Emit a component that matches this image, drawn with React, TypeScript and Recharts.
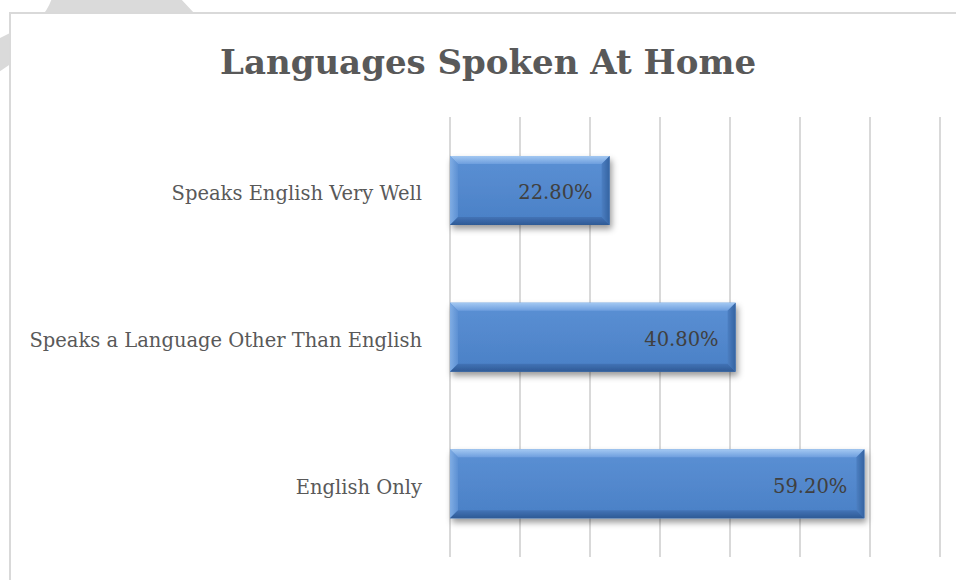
import { BarChart, Bar, XAxis, YAxis, CartesianGrid, LabelList } from 'recharts'

const categories = ['Speaks English Very Well', 'Speaks a Language Other Than English', 'English Only']
const shares = [0.228, 0.408, 0.592]
const xTicks = [0, 0.1, 0.2, 0.3, 0.4, 0.5, 0.6, 0.7]

const data = categories.map((name, i) => ({ name, value: shares[i] }))

const FONT = '"DejaVu Serif", serif'

// office-style bevelled bar
function BevelBar(props: any) {
  const { x, y, width, height } = props
  if (width <= 0) return null
  const b = 8
  return (
    <g filter="url(#barShadow)">
      <rect x={x} y={y} width={width} height={height} fill="url(#barFill)" />
      <polygon
        points={`${x},${y} ${x + width},${y} ${x + width - b},${y + b} ${x + b},${y + b}`}
        fill="url(#bevTop)"
      />
      <polygon
        points={`${x},${y} ${x + b},${y + b} ${x + b},${y + height - b} ${x},${y + height}`}
        fill="url(#bevLeft)"
      />
      <polygon
        points={`${x + width},${y} ${x + width},${y + height} ${x + width - b},${y + height - b} ${x + width - b},${y + b}`}
        fill="url(#bevRight)"
      />
      <polygon
        points={`${x},${y + height} ${x + width},${y + height} ${x + width - b},${y + height - b} ${x + b},${y + height - b}`}
        fill="url(#bevBottom)"
      />
    </g>
  )
}

export default function App() {
  return (
    <div style={{ position: 'relative', width: 956, height: 580, overflow: 'hidden', background: '#fff' }}>
      <style>{'body{margin:0;overflow:hidden}'}</style>
      {/* page watermark peeking out behind the chart box */}
      <svg width={260} height={120} style={{ position: 'absolute', left: 0, top: 0 }}>
        <path d="M 180 -2 L 52 -2 Q 48 10 40 18 L -4 40 L -4 74 L 60 30 L 195 14 Z" fill="#dadada" />
      </svg>
      <div
        style={{
          position: 'absolute',
          left: 9,
          top: 12,
          width: 1000,
          height: 620,
          border: '2px solid #d9d9d9',
          boxSizing: 'border-box',
          background: '#fff',
        }}
      />
      <div
        style={{
          position: 'absolute',
          left: 0,
          width: 976,
          top: 37,
          textAlign: 'center',
          fontFamily: FONT,
          fontWeight: 'bold',
          fontSize: 34,
          color: '#595959',
          lineHeight: '50px',
        }}
      >
        Languages Spoken At Home
      </div>
      <div style={{ position: 'absolute', left: 0, top: 0 }}>
        <BarChart
          width={956}
          height={580}
          data={data}
          layout="vertical"
          margin={{ top: 117, right: 16, bottom: 23, left: 0 }}
        >
          <defs>
            <linearGradient id="barFill" x1="0" y1="0" x2="0" y2="1">
              <stop offset="0%" stopColor="#5b90d4" />
              <stop offset="100%" stopColor="#4a80c6" />
            </linearGradient>
            <linearGradient id="bevTop" x1="0" y1="0" x2="0" y2="1">
              <stop offset="0%" stopColor="#a3c8f2" />
              <stop offset="100%" stopColor="#6d9ede" />
            </linearGradient>
            <linearGradient id="bevBottom" x1="0" y1="0" x2="0" y2="1">
              <stop offset="0%" stopColor="#4373b6" />
              <stop offset="100%" stopColor="#2e5a95" />
            </linearGradient>
            <linearGradient id="bevLeft" x1="0" y1="0" x2="1" y2="0">
              <stop offset="0%" stopColor="#80ade4" />
              <stop offset="100%" stopColor="#5c90d3" />
            </linearGradient>
            <linearGradient id="bevRight" x1="0" y1="0" x2="1" y2="0">
              <stop offset="0%" stopColor="#4c7fc2" />
              <stop offset="100%" stopColor="#3563a1" />
            </linearGradient>
            <filter id="barShadow" x="-10%" y="-20%" width="130%" height="160%">
              <feDropShadow dx="2" dy="4" stdDeviation="3" floodColor="#000" floodOpacity="0.4" />
            </filter>
          </defs>
          <CartesianGrid horizontal={false} vertical stroke="#d9d9d9" strokeWidth={2} />
          <XAxis type="number" hide domain={[0, 0.7]} ticks={xTicks} />
          <YAxis
            type="category"
            dataKey="name"
            width={450}
            axisLine={false}
            tickLine={false}
            tickSize={0}
            tickMargin={28}
            tick={{ fill: '#595959', fontSize: 19.5, fontFamily: FONT, dy: 3 }}
          />
          <Bar dataKey="value" barSize={69} shape={<BevelBar />} isAnimationActive={false}>
            <LabelList
              dataKey="value"
              position="insideRight"
              offset={17}
              fill="#404040"
              fontSize={19.5}
              fontFamily={FONT}
              dy={2}
              formatter={(v: any) => `${(v * 100).toFixed(2)}%`}
            />
          </Bar>
        </BarChart>
      </div>
    </div>
  )
}
